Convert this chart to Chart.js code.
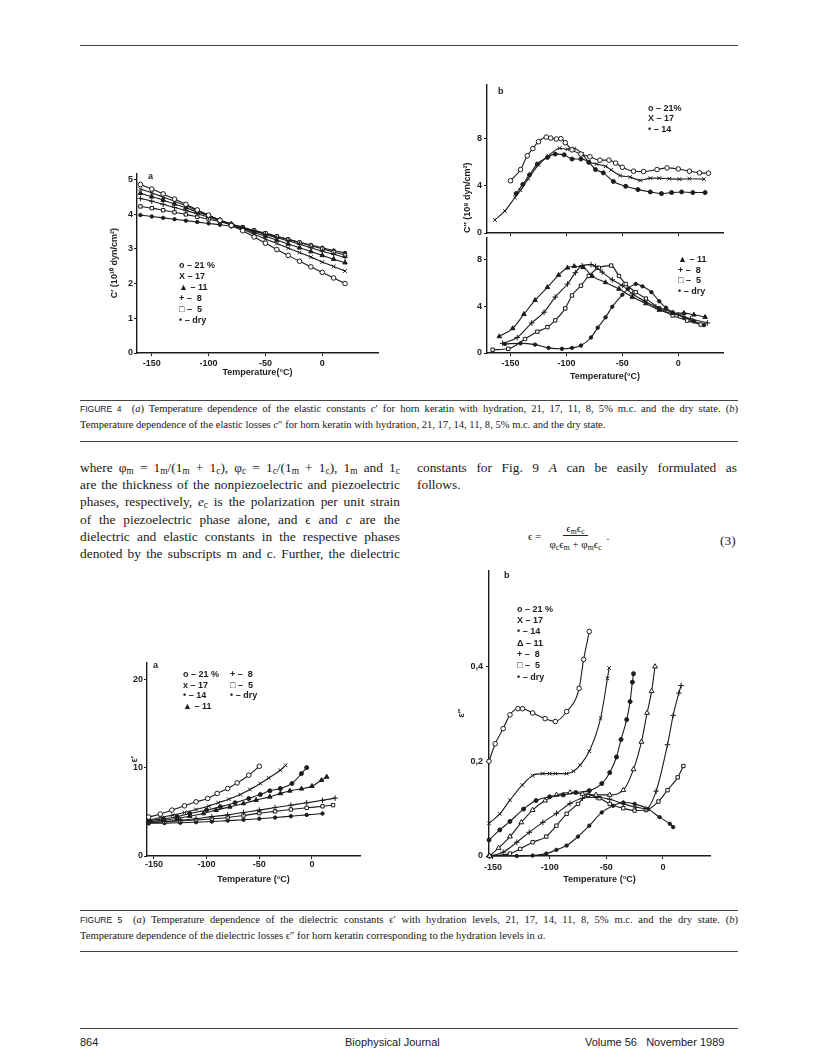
<!DOCTYPE html>
<html>
<head>
<meta charset="utf-8">
<title>Horn keratin - Figures 4 and 5</title>
<script src="https://cdn.jsdelivr.net/npm/chart.js@4.4.1/dist/chart.umd.min.js"></script>
<style>
  body { margin: 0; background: #fff; }
  #page { position: relative; width: 816px; height: 1064px; overflow: hidden; color: #181818;
          font-family: "Liberation Serif", "Times New Roman", serif; }
  canvas { position: absolute; }
  .rule { position: absolute; left: 80px; width: 658px; height: 0; border-top: 1.5px solid #444; }
  .caption { position: absolute; left: 80px; width: 658px; font-size: 10.6px; line-height: 16px; }
  .col { position: absolute; width: 320px; font-size: 13.4px; line-height: 17.2px; }
  .jl { text-align: justify; text-align-last: justify; }
  sub { font-size: 70%; line-height: 0; vertical-align: -0.25em; }
  .fig { font-family: "Liberation Sans", Arial, sans-serif; font-size: 8.5px; margin-right: 5px; }
  #eq { position: absolute; left: 528px; top: 522px; font-size: 11px; display: flex; align-items: center; color: #111; }
  .frac { display: inline-flex; flex-direction: column; align-items: center; margin: 0 2px 0 5px; }
  .frac .num { border-bottom: 1px solid #222; padding: 0 3px 1px; }
  .frac .den { padding: 2px 3px 0; }
  #eqno { position: absolute; left: 720px; top: 533px; font-size: 13.4px; }
  .foot { position: absolute; top: 1036px; font-family: "Liberation Sans", Arial, sans-serif; font-size: 11px; }
</style>
</head>
<body>
<div id="page">
  <div class="rule" style="top:45px"></div>

  <canvas id="fig4a"></canvas>
  <canvas id="fig4bTop"></canvas>
  <canvas id="fig4bBottom"></canvas>

  <div class="rule" style="top:400px"></div>
  <div class="caption" style="top:401px">
    <div class="jl"><span class="fig">FIGURE 4</span> (<i>a</i>) Temperature dependence of the elastic constants <i>c</i>′ for horn keratin with hydration, 21, 17, 11, 8, 5% m.c. and the dry state. (<i>b</i>)</div>
    <div>Temperature dependence of the elastic losses <i>c</i>″ for horn keratin with hydration, 21, 17, 14, 11, 8, 5% m.c. and the dry state.</div>
  </div>
  <div class="rule" style="top:441px"></div>

  <div class="col" style="left:80px; top:459px">
    <div class="jl">where φ<sub>m</sub> = 1<sub>m</sub>/(1<sub>m</sub> + 1<sub>c</sub>), φ<sub>c</sub> = 1<sub>c</sub>/(1<sub>m</sub> + 1<sub>c</sub>), 1<sub>m</sub> and 1<sub>c</sub></div>
    <div class="jl">are the thickness of the nonpiezoelectric and piezoelectric</div>
    <div class="jl">phases, respectively, <i>e</i><sub>c</sub> is the polarization per unit strain</div>
    <div class="jl">of the piezoelectric phase alone, and ϵ and <i>c</i> are the</div>
    <div class="jl">dielectric and elastic constants in the respective phases</div>
    <div class="jl">denoted by the subscripts m and c. Further, the dielectric</div>
  </div>
  <div class="col" style="left:417px; top:459px">
    <div class="jl">constants for Fig. 9 <i>A</i> can be easily formulated as</div>
    <div>follows.</div>
  </div>
  <div id="eq">
    <span>ϵ =</span>
    <span class="frac"><span class="num">ϵ<sub>m</sub>ϵ<sub>c</sub></span><span class="den">φ<sub>c</sub>ϵ<sub>m</sub> + φ<sub>m</sub>ϵ<sub>c</sub></span></span>
    <span>.</span>
  </div>
  <div id="eqno">(3)</div>

  <canvas id="fig5a"></canvas>
  <canvas id="fig5b"></canvas>

  <div class="rule" style="top:910px"></div>
  <div class="caption" style="top:912px">
    <div class="jl"><span class="fig">FIGURE 5</span> (<i>a</i>) Temperature dependence of the dielectric constants ϵ′ with hydration levels, 21, 17, 14, 11, 8, 5% m.c. and the dry state. (<i>b</i>)</div>
    <div>Temperature dependence of the dielectric losses ϵ″ for horn keratin corresponding to the hydration levels in <i>a</i>.</div>
  </div>
  <div class="rule" style="top:951px"></div>

  <div class="rule" style="top:1028px"></div>
  <div class="foot" style="left:80px">864</div>
  <div class="foot" style="left:345px">Biophysical Journal</div>
  <div class="foot" style="left:585px">Volume 56&nbsp;&nbsp; November 1989</div>
</div>

<script>
// ---- Fig 4a: elastic constant c' (10^10 dyn/cm2), one reading every 10 degC
const temp4a = [-160, -150, -140, -130, -120, -110, -100, -90, -80, -70, -60, -50, -40, -30, -20, -10, 0, 10, 20];
const c4a21 = [4.85, 4.72, 4.58, 4.43, 4.28, 4.12, 3.97, 3.82, 3.67, 3.52, 3.34, 3.16, 2.98, 2.81, 2.64, 2.48, 2.32, 2.16, 2.00];
const c4a17 = [4.72, 4.61, 4.49, 4.37, 4.24, 4.10, 3.96, 3.82, 3.69, 3.56, 3.42, 3.28, 3.15, 3.02, 2.89, 2.76, 2.62, 2.49, 2.36];
const c4a11 = [4.60, 4.50, 4.40, 4.29, 4.18, 4.06, 3.95, 3.83, 3.71, 3.59, 3.47, 3.36, 3.25, 3.14, 3.03, 2.92, 2.81, 2.70, 2.60];
const c4a8 = [4.45, 4.37, 4.28, 4.19, 4.10, 4.01, 3.91, 3.81, 3.71, 3.61, 3.51, 3.41, 3.32, 3.23, 3.13, 3.03, 2.93, 2.84, 2.75];
const c4a5 = [4.22, 4.17, 4.11, 4.05, 3.99, 3.92, 3.85, 3.78, 3.70, 3.62, 3.53, 3.45, 3.36, 3.27, 3.18, 3.09, 3.00, 2.91, 2.82];
const c4aDry = [3.97, 3.93, 3.89, 3.85, 3.81, 3.77, 3.73, 3.69, 3.64, 3.58, 3.51, 3.43, 3.35, 3.27, 3.19, 3.11, 3.03, 2.95, 2.88];

// ---- Fig 4b: elastic losses c'' (10^8 dyn/cm2)
const t4b21 = [-150, -141, -135, -130, -125, -118, -114, -109, -105, -101, -95, -87, -79, -70, -62, -56, -50, -40, -31, -19, -10, 0, 10, 19, 27];
const c4b21 = [4.43, 5.38, 6.55, 7.16, 7.74, 8.13, 8.05, 7.97, 8.00, 7.66, 7.05, 6.69, 6.46, 6.18, 6.18, 5.93, 5.57, 5.24, 5.21, 5.38, 5.52, 5.43, 5.24, 5.10, 5.07];
const t4b17 = [-164, -155, -146, -141, -134, -125, -116, -106, -99, -93, -86, -80, -73, -65, -60, -52, -43, -34, -25, -17, -8, 1, 10, 23];
const c4b17 = [1.11, 1.87, 3.01, 3.62, 4.60, 5.77, 6.55, 7.19, 7.10, 7.16, 6.70, 6.04, 5.85, 5.65, 5.35, 4.87, 4.74, 4.46, 4.65, 4.65, 4.60, 4.57, 4.60, 4.57];
const t4b14 = [-145, -139, -133, -126, -117, -110, -102, -95, -87, -80, -74, -67, -58, -47, -36, -25, -15, -6, 3, 13, 24];
const c4b14 = [3.34, 4.12, 4.93, 5.85, 6.41, 6.69, 6.63, 6.27, 6.27, 5.99, 5.38, 5.10, 4.37, 3.96, 3.68, 3.48, 3.34, 3.43, 3.48, 3.43, 3.43];
const t4b11 = [-160, -148, -138, -128, -117, -107, -99, -93, -85, -77, -65, -53, -41, -29, -17, -5, 5, 14, 24];
const c4b11 = [1.42, 2.11, 3.33, 4.53, 5.64, 6.69, 7.31, 7.44, 7.35, 6.60, 6.06, 5.50, 4.80, 4.25, 3.69, 3.42, 3.42, 3.28, 3.08];
const t4b8 = [-157, -144, -131, -120, -110, -99, -92, -86, -78, -74, -68, -59, -50, -41, -30, -20, -11, 0, 11, 26];
const c4b8 = [0.83, 1.33, 2.58, 3.50, 4.80, 5.92, 6.89, 7.50, 7.58, 7.44, 6.94, 6.28, 5.78, 5.08, 4.44, 3.97, 3.69, 3.28, 2.94, 2.58];
const t4b5 = [-166, -152, -137, -126, -117, -110, -101, -95, -87, -80, -71, -60, -53, -47, -38, -29, -17, -5, 8, 20];
const c4b5 = [0.28, 0.36, 1.20, 1.83, 2.22, 2.80, 3.83, 4.94, 5.78, 6.61, 7.31, 7.50, 6.61, 5.92, 5.22, 4.67, 3.83, 3.22, 2.78, 2.44];
const t4bDry = [-155, -141, -128, -116, -104, -95, -87, -78, -72, -65, -59, -50, -45, -38, -32, -24, -17, -11, -5, 5, 14, 23];
const c4bDry = [0.78, 0.83, 0.72, 0.44, 0.36, 0.44, 0.64, 1.33, 2.17, 3.06, 3.97, 5.00, 5.50, 5.92, 5.72, 5.22, 4.44, 3.89, 3.50, 3.06, 2.72, 2.39];

// ---- Fig 5a: dielectric constant e'
const t5a21 = [-155, -144, -133, -121, -110, -99, -90, -80, -71, -60, -50];
const e5a21 = [4.40, 4.74, 5.19, 5.68, 6.13, 6.50, 7.07, 7.63, 8.27, 9.14, 10.15];
const t5a17 = [-155, -144, -132, -121, -110, -98, -89, -79, -68, -59, -49, -41, -30, -25];
const e5a17 = [4.06, 4.36, 4.62, 4.92, 5.26, 5.64, 6.02, 6.43, 6.95, 7.52, 8.20, 8.83, 9.70, 10.26];
const t5a14 = [-155, -141, -128, -116, -100, -87, -73, -60, -49, -40, -30, -19, -10, -5];
const e5a14 = [3.98, 4.21, 4.44, 4.81, 5.19, 5.56, 6.02, 6.50, 6.95, 7.37, 7.63, 8.20, 9.32, 10.00];
const t5a11 = [-155, -141, -128, -116, -103, -91, -78, -65, -53, -40, -30, -21, -10, 0, 9, 14];
const e5a11 = [3.87, 4.06, 4.25, 4.51, 4.81, 5.19, 5.56, 5.94, 6.32, 6.69, 7.07, 7.37, 7.60, 7.90, 8.57, 8.95];
const t5a8 = [-155, -140, -125, -110, -95, -80, -65, -50, -35, -20, -5, 10, 22];
const e5a8 = [3.76, 3.90, 4.05, 4.22, 4.45, 4.65, 4.92, 5.19, 5.48, 5.75, 6.02, 6.30, 6.55];
const t5a5 = [-155, -140, -125, -110, -95, -80, -65, -50, -35, -20, -5, 10, 20];
const e5a5 = [3.80, 3.88, 3.97, 4.07, 4.20, 4.36, 4.58, 4.85, 5.05, 5.26, 5.45, 5.62, 5.75];
const t5aDry = [-155, -140, -125, -110, -95, -80, -65, -50, -35, -20, -5, 10];
const e5aDry = [3.70, 3.72, 3.76, 3.82, 3.90, 4.00, 4.10, 4.22, 4.35, 4.50, 4.65, 4.80];

// ---- Fig 5b: dielectric loss e''
const t5b21 = [-153.5, -148, -141, -135, -128, -124, -115, -104, -95, -85, -74, -70, -65];
const e5b21 = [0.200, 0.237, 0.269, 0.298, 0.311, 0.311, 0.302, 0.290, 0.284, 0.305, 0.354, 0.415, 0.474];
const t5b17 = [-153.5, -144, -135, -124, -115, -106, -100, -95, -85, -79, -73, -65, -55, -49, -47.5];
const e5b17 = [0.069, 0.089, 0.118, 0.150, 0.170, 0.174, 0.174, 0.174, 0.174, 0.179, 0.192, 0.221, 0.291, 0.375, 0.397];
const t5b14 = [-153.5, -144, -135, -123, -112, -100, -88, -77, -65, -54, -47, -41, -37, -32, -29, -27, -26];
const e5b14 = [0.034, 0.055, 0.073, 0.099, 0.117, 0.125, 0.129, 0.134, 0.138, 0.153, 0.176, 0.209, 0.246, 0.288, 0.326, 0.367, 0.385];
const t5b11 = [-153, -145, -135, -125, -115, -104, -94, -82, -71, -59, -47, -35, -26, -19, -14, -10, -7];
const e5b11 = [0.000, 0.017, 0.041, 0.071, 0.097, 0.117, 0.129, 0.134, 0.131, 0.129, 0.129, 0.139, 0.183, 0.241, 0.302, 0.348, 0.400];
const t5b8 = [-153, -141, -129, -118, -106, -94, -82, -71, -59, -47, -35, -24, -15, -6, 4, 9, 14, 16];
const e5b8 = [0.000, 0.008, 0.029, 0.050, 0.071, 0.090, 0.111, 0.122, 0.124, 0.120, 0.110, 0.103, 0.100, 0.137, 0.235, 0.297, 0.344, 0.360];
const t5b5 = [-153, -135, -126, -115, -103, -94, -85, -75, -66, -56, -47, -35, -25, -15, -4, 4, 13, 18];
const e5b5 = [0.000, 0.005, 0.015, 0.029, 0.041, 0.064, 0.089, 0.110, 0.129, 0.122, 0.110, 0.101, 0.096, 0.097, 0.115, 0.139, 0.166, 0.190];
const t5bDry = [-153, -129, -115, -103, -94, -85, -75, -65, -54, -44, -35, -25, -13, -3, 6, 9];
const e5bDry = [0.000, 0.000, 0.001, 0.005, 0.013, 0.022, 0.041, 0.064, 0.092, 0.106, 0.113, 0.110, 0.099, 0.082, 0.068, 0.061];

// legend wording as printed in each panel
const legend4a = ['o – 21 %', 'X – 17', '▲ – 11', '+ –  8', '□ –  5', '• – dry'];
const legend4bTop = ['o – 21%', 'X – 17', '• – 14'];
const legend4bBottom = ['▲ – 11', '+ –  8', '□ –  5', '• – dry'];
const legend5aLeft = ['o – 21 %', 'x – 17', '• – 14', '▲ – 11'];
const legend5aRight = ['+ –  8', '□ –  5', '• – dry'];
const legend5b = ['o – 21 %', 'X – 17', '• – 14', 'Δ – 11', '+ –  8', '□ –  5', '• – dry'];

const INK = '#1c1c1c';
const tickFont = {family: '"Liberation Sans", Arial, sans-serif', size: 9, weight: 'bold'};
const titleFont = {family: '"Liberation Sans", Arial, sans-serif', size: 9, weight: 'bold'};

const marks = {
    m21: {shape: 'circle', r: 2.3, fill: false},
    m17: {shape: 'crossRot', r: 2.6, fill: false},
    m14: {shape: 'circle', r: 2.0, fill: true},
    m11: {shape: 'triangle', r: 2.6, fill: true},
    m11open: {shape: 'triangle', r: 2.8, fill: false},
    m8: {shape: 'cross', r: 2.8, fill: false},
    m5: {shape: 'rect', r: 2.4, fill: false},
    dry: {shape: 'circle', r: 1.7, fill: true}
};

function series(label, xs, ys, mark) {
    let pts = [];
    for (let i = 0; i < xs.length; i++) {
        pts[i] = {x: xs[i], y: ys[i]};
    }
    return {
        label: label,
        data: pts,
        showLine: true,
        borderColor: INK,
        borderWidth: 1.1,
        cubicInterpolationMode: 'monotone',
        pointStyle: mark.shape,
        pointRadius: mark.r,
        pointBackgroundColor: mark.fill ? INK : '#fff',
        pointBorderColor: INK,
        pointBorderWidth: 1,
        clip: 6
    };
}

function xAxis(min, max, ticks, opts) {
    return {
        type: 'linear', min: min, max: max,
        afterBuildTicks: s => { s.ticks = ticks.map(v => ({value: v})); },
        afterFit: s => { s.height = opts.h; },
        border: {display: true, color: INK, width: 1.4},
        grid: {drawOnChartArea: false, drawTicks: true, tickLength: 3, color: INK},
        ticks: {display: opts.labels, padding: opts.pad, maxRotation: 0, autoSkip: false, color: INK, font: tickFont},
        title: {display: !!opts.title, text: opts.title, color: INK, font: titleFont, padding: {top: 0, bottom: opts.titlePad}}
    };
}

function yAxis(min, max, ticks, opts) {
    return {
        type: 'linear', min: min, max: max,
        afterBuildTicks: s => { s.ticks = ticks.map(v => ({value: v})); },
        afterFit: s => { s.width = opts.w; },
        border: {display: true, color: INK, width: 1.4},
        grid: {drawOnChartArea: false, drawTicks: true, tickLength: 3, color: INK},
        ticks: {padding: opts.pad, autoSkip: false, color: INK, font: tickFont, callback: opts.fmt},
        title: {display: !!opts.title, text: opts.title, color: INK, font: titleFont, align: opts.align || 'center',
                padding: {top: opts.titlePad, bottom: 0}}
    };
}

// small text block inside the plot: legend columns and the panel letter
function panelText(columns, step, letter) {
    return {
        id: 'panelText',
        afterDatasetsDraw(chart) {
            const ctx = chart.ctx, area = chart.chartArea;
            ctx.save();
            ctx.fillStyle = INK;
            ctx.textBaseline = 'middle';
            ctx.font = 'bold 9px "Liberation Sans", "DejaVu Sans", sans-serif';
            columns.forEach(col => {
                col.lines.forEach((txt, i) => ctx.fillText(txt, area.left + col.x, area.top + col.y + i * step));
            });
            if (letter) ctx.fillText(letter.text, area.left + letter.x, area.top + letter.y);
            ctx.restore();
        }
    };
}

// box = plot area on the page plus room for the axes
function plotPanel(id, box, datasets, scales, textPlugin) {
    let canvas = document.getElementById(id);
    canvas.width = box.right - box.left + box.yw + box.pr;
    canvas.height = box.bottom - box.top + box.pt + box.xh;
    canvas.style.left = (box.left - box.yw) + 'px';
    canvas.style.top = (box.top - box.pt) + 'px';
    return new Chart(canvas, {
        type: 'scatter',
        data: {datasets: datasets},
        options: {
            responsive: false,
            animation: false,
            devicePixelRatio: 1,
            layout: {padding: {top: box.pt, right: box.pr, left: 0, bottom: 0}},
            scales: scales,
            plugins: {legend: {display: false}, tooltip: {enabled: false}}
        },
        plugins: [textPlugin]
    });
}

const tempTicks = [-150, -100, -50, 0];
const commaFmt = v => String(v).replace('.', ',');

// Figure 4a
plotPanel('fig4a', {left: 137, top: 173, right: 378, bottom: 353, yw: 32, xh: 28, pt: 6, pr: 6}, [
    series('21 %', temp4a, c4a21, marks.m21),
    series('17', temp4a, c4a17, marks.m17),
    series('11', temp4a, c4a11, marks.m11),
    series('8', temp4a, c4a8, marks.m8),
    series('5', temp4a, c4a5, marks.m5),
    series('dry', temp4a, c4aDry, marks.dry)
], {
    x: xAxis(-163, 49, tempTicks, {h: 28, labels: true, pad: 2, title: 'Temperature(°C)', titlePad: 2.6}),
    y: yAxis(0, 5.17, [0, 1, 2, 3, 4, 5], {w: 32, pad: 1, title: 'C′ (10¹⁰ dyn/cm²)', titlePad: 4})
}, panelText([{x: 42, y: 92, lines: legend4a}], 11, {text: 'a', x: 11, y: 3}));

// Figure 4b, upper panel
plotPanel('fig4bTop', {left: 487, top: 83, right: 723, bottom: 233, yw: 30, xh: 8, pt: 6, pr: 6}, [
    series('21%', t4b21, c4b21, marks.m21),
    series('17', t4b17, c4b17, marks.m17),
    series('14', t4b14, c4b14, marks.m14)
], {
    x: xAxis(-171, 40, tempTicks, {h: 8, labels: false, pad: 0, titlePad: 0}),
    y: yAxis(0, 12.6, [0, 4, 8], {w: 30, pad: 2, title: 'C″ (10⁸ dyn/cm²)', titlePad: 5.6, align: 'start'})
}, panelText([{x: 161, y: 24, lines: legend4bTop}], 10.5, {text: 'b', x: 11, y: 7}));

// Figure 4b, lower panel
plotPanel('fig4bBottom', {left: 487, top: 234, right: 723, bottom: 353, yw: 30, xh: 30, pt: 4, pr: 6}, [
    series('11', t4b11, c4b11, marks.m11),
    series('8', t4b8, c4b8, marks.m8),
    series('5', t4b5, c4b5, marks.m5),
    series('dry', t4bDry, c4bDry, marks.dry)
], {
    x: xAxis(-171, 40, tempTicks, {h: 30, labels: true, pad: 2, title: 'Temperature(°C)', titlePad: 0.6}),
    y: yAxis(0, 9.92, [0, 4, 8], {w: 30, pad: 2})
}, panelText([{x: 191, y: 22, lines: legend4bBottom}], 10.7, null));

// Figure 5a
plotPanel('fig5a', {left: 147, top: 662, right: 360, bottom: 856, yw: 30, xh: 30, pt: 6, pr: 6}, [
    series('21 %', t5a21, e5a21, marks.m21),
    series('17', t5a17, e5a17, marks.m17),
    series('14', t5a14, e5a14, marks.m14),
    series('11', t5a11, e5a11, marks.m11),
    series('8', t5a8, e5a8, marks.m8),
    series('5', t5a5, e5a5, marks.m5),
    series('dry', t5aDry, e5aDry, marks.dry)
], {
    x: xAxis(-156.6, 45.6, tempTicks, {h: 30, labels: true, pad: 0, title: 'Temperature (°C)', titlePad: 0.6}),
    y: yAxis(0, 21.9, [0, 10, 20], {w: 30, pad: 1, title: 'ε′', titlePad: 12})
}, panelText([{x: 36, y: 12, lines: legend5aLeft}, {x: 83, y: 12, lines: legend5aRight}], 10.7, {text: 'a', x: 6, y: 3}));

// Figure 5b
plotPanel('fig5b', {left: 489, top: 568, right: 710, bottom: 856, yw: 36, xh: 32, pt: 6, pr: 6}, [
    series('21 %', t5b21, e5b21, marks.m21),
    series('17', t5b17, e5b17, marks.m17),
    series('14', t5b14, e5b14, marks.m14),
    series('11', t5b11, e5b11, marks.m11open),
    series('8', t5b8, e5b8, marks.m8),
    series('5', t5b5, e5b5, marks.m5),
    series('dry', t5bDry, e5bDry, marks.dry)
], {
    x: xAxis(-153.5, 41.5, tempTicks, {h: 32, labels: true, pad: 3, title: 'Temperature (°C)', titlePad: 2.6}),
    y: yAxis(0, 0.603, [0, 0.2, 0.4], {w: 36, pad: 3, title: 'ε″', titlePad: 3.6, fmt: commaFmt})
}, panelText([{x: 28, y: 39, lines: legend5b}], 11.3, {text: 'b', x: 15, y: 5}));
</script>
</body>
</html>
